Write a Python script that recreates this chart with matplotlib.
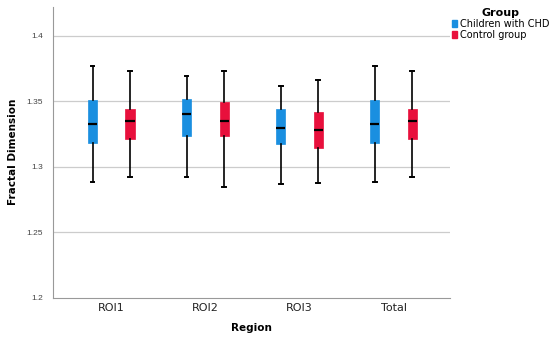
import numpy as np
import matplotlib.pyplot as plt

regions = ['ROI1', 'ROI2', 'ROI3', 'Total']
groups = ['Children with CHD', 'Control group']
colors = ['#1a8fe0', '#e8103c']

# five-number summaries: whislo, q1, median, q3, whishi
chd_lo = [1.288, 1.292, 1.2865, 1.288]
chd_q1 = [1.318, 1.3235, 1.317, 1.318]
chd_med = [1.3327, 1.3404, 1.3294, 1.3327]
chd_q3 = [1.351, 1.3518, 1.3437, 1.351]
chd_hi = [1.377, 1.369, 1.3614, 1.377]

ctl_lo = [1.2924, 1.2843, 1.2873, 1.2924]
ctl_q1 = [1.3211, 1.3231, 1.314, 1.3211]
ctl_med = [1.3345, 1.3345, 1.3277, 1.3345]
ctl_q3 = [1.3437, 1.3495, 1.3414, 1.3437]
ctl_hi = [1.3733, 1.3733, 1.3662, 1.3733]


def make_stats(lo, q1, med, q3, hi):
    return [dict(whislo=a, q1=b, med=c, q3=d, whishi=e, fliers=[])
            for a, b, c, d, e in zip(lo, q1, med, q3, hi)]


series = [make_stats(chd_lo, chd_q1, chd_med, chd_q3, chd_hi),
          make_stats(ctl_lo, ctl_q1, ctl_med, ctl_q3, ctl_hi)]

fig = plt.figure(figsize=(5.5, 3.43), dpi=100)
ax = fig.add_axes([53 / 550, 1 - 297.7 / 343, (450 - 53) / 550, (297.7 - 6.7) / 343])

x = np.arange(len(regions))
offsets = [-0.2, 0.2]
for stats, off, col in zip(series, offsets, colors):
    ax.bxp(stats, positions=x + off, widths=0.1, patch_artist=True,
           showfliers=False,
           boxprops=dict(facecolor=col, edgecolor=col, linewidth=0.5),
           medianprops=dict(color='black', linewidth=1.6),
           whiskerprops=dict(color='black', linewidth=1.2),
           capprops=dict(color='black', linewidth=1.4),
           capwidths=0.04, zorder=3)

ax.set_xlim(-0.62, 3.6)
ax.set_ylim(1.2, 1.422)
ax.set_yticks([1.2, 1.25, 1.3, 1.35, 1.4])
ax.set_yticklabels(['1.2', '1.25', '1.3', '1.35', '1.4'], family='Liberation Sans')
ax.set_xticks(x)
ax.set_xticklabels(regions)
for yv in [1.25, 1.3, 1.35, 1.4]:
    ax.axhline(yv, color='#cccccc', linewidth=0.9, zorder=1)

ax.tick_params(axis='y', length=0, labelsize=6, labelcolor='#444444', pad=7)
ax.tick_params(axis='x', length=0, labelsize=8, labelcolor='#222222', pad=4)
for s in ['top', 'right']:
    ax.spines[s].set_visible(False)
for s in ['left', 'bottom']:
    ax.spines[s].set_color('#999999')
    ax.spines[s].set_linewidth(0.8)

ax.set_xlabel('Region', fontsize=7.5, fontweight='bold', labelpad=7)
ax.set_ylabel('Fractal Dimension', fontsize=7.5, fontweight='bold', labelpad=6)

handles = [plt.Rectangle((0, 0), 1, 1, color=c) for c in colors]
leg = fig.legend(handles, groups, title='Group', loc='upper left',
                 bbox_to_anchor=(452 / 550, 1 - 8 / 343), frameon=False,
                 fontsize=7, title_fontproperties={'weight': 'bold', 'size': 8},
                 handlelength=0.55, handleheight=0.7, handletextpad=0.3,
                 labelspacing=0.1, borderaxespad=0, borderpad=0)

fig.savefig('out.png', dpi=100)
